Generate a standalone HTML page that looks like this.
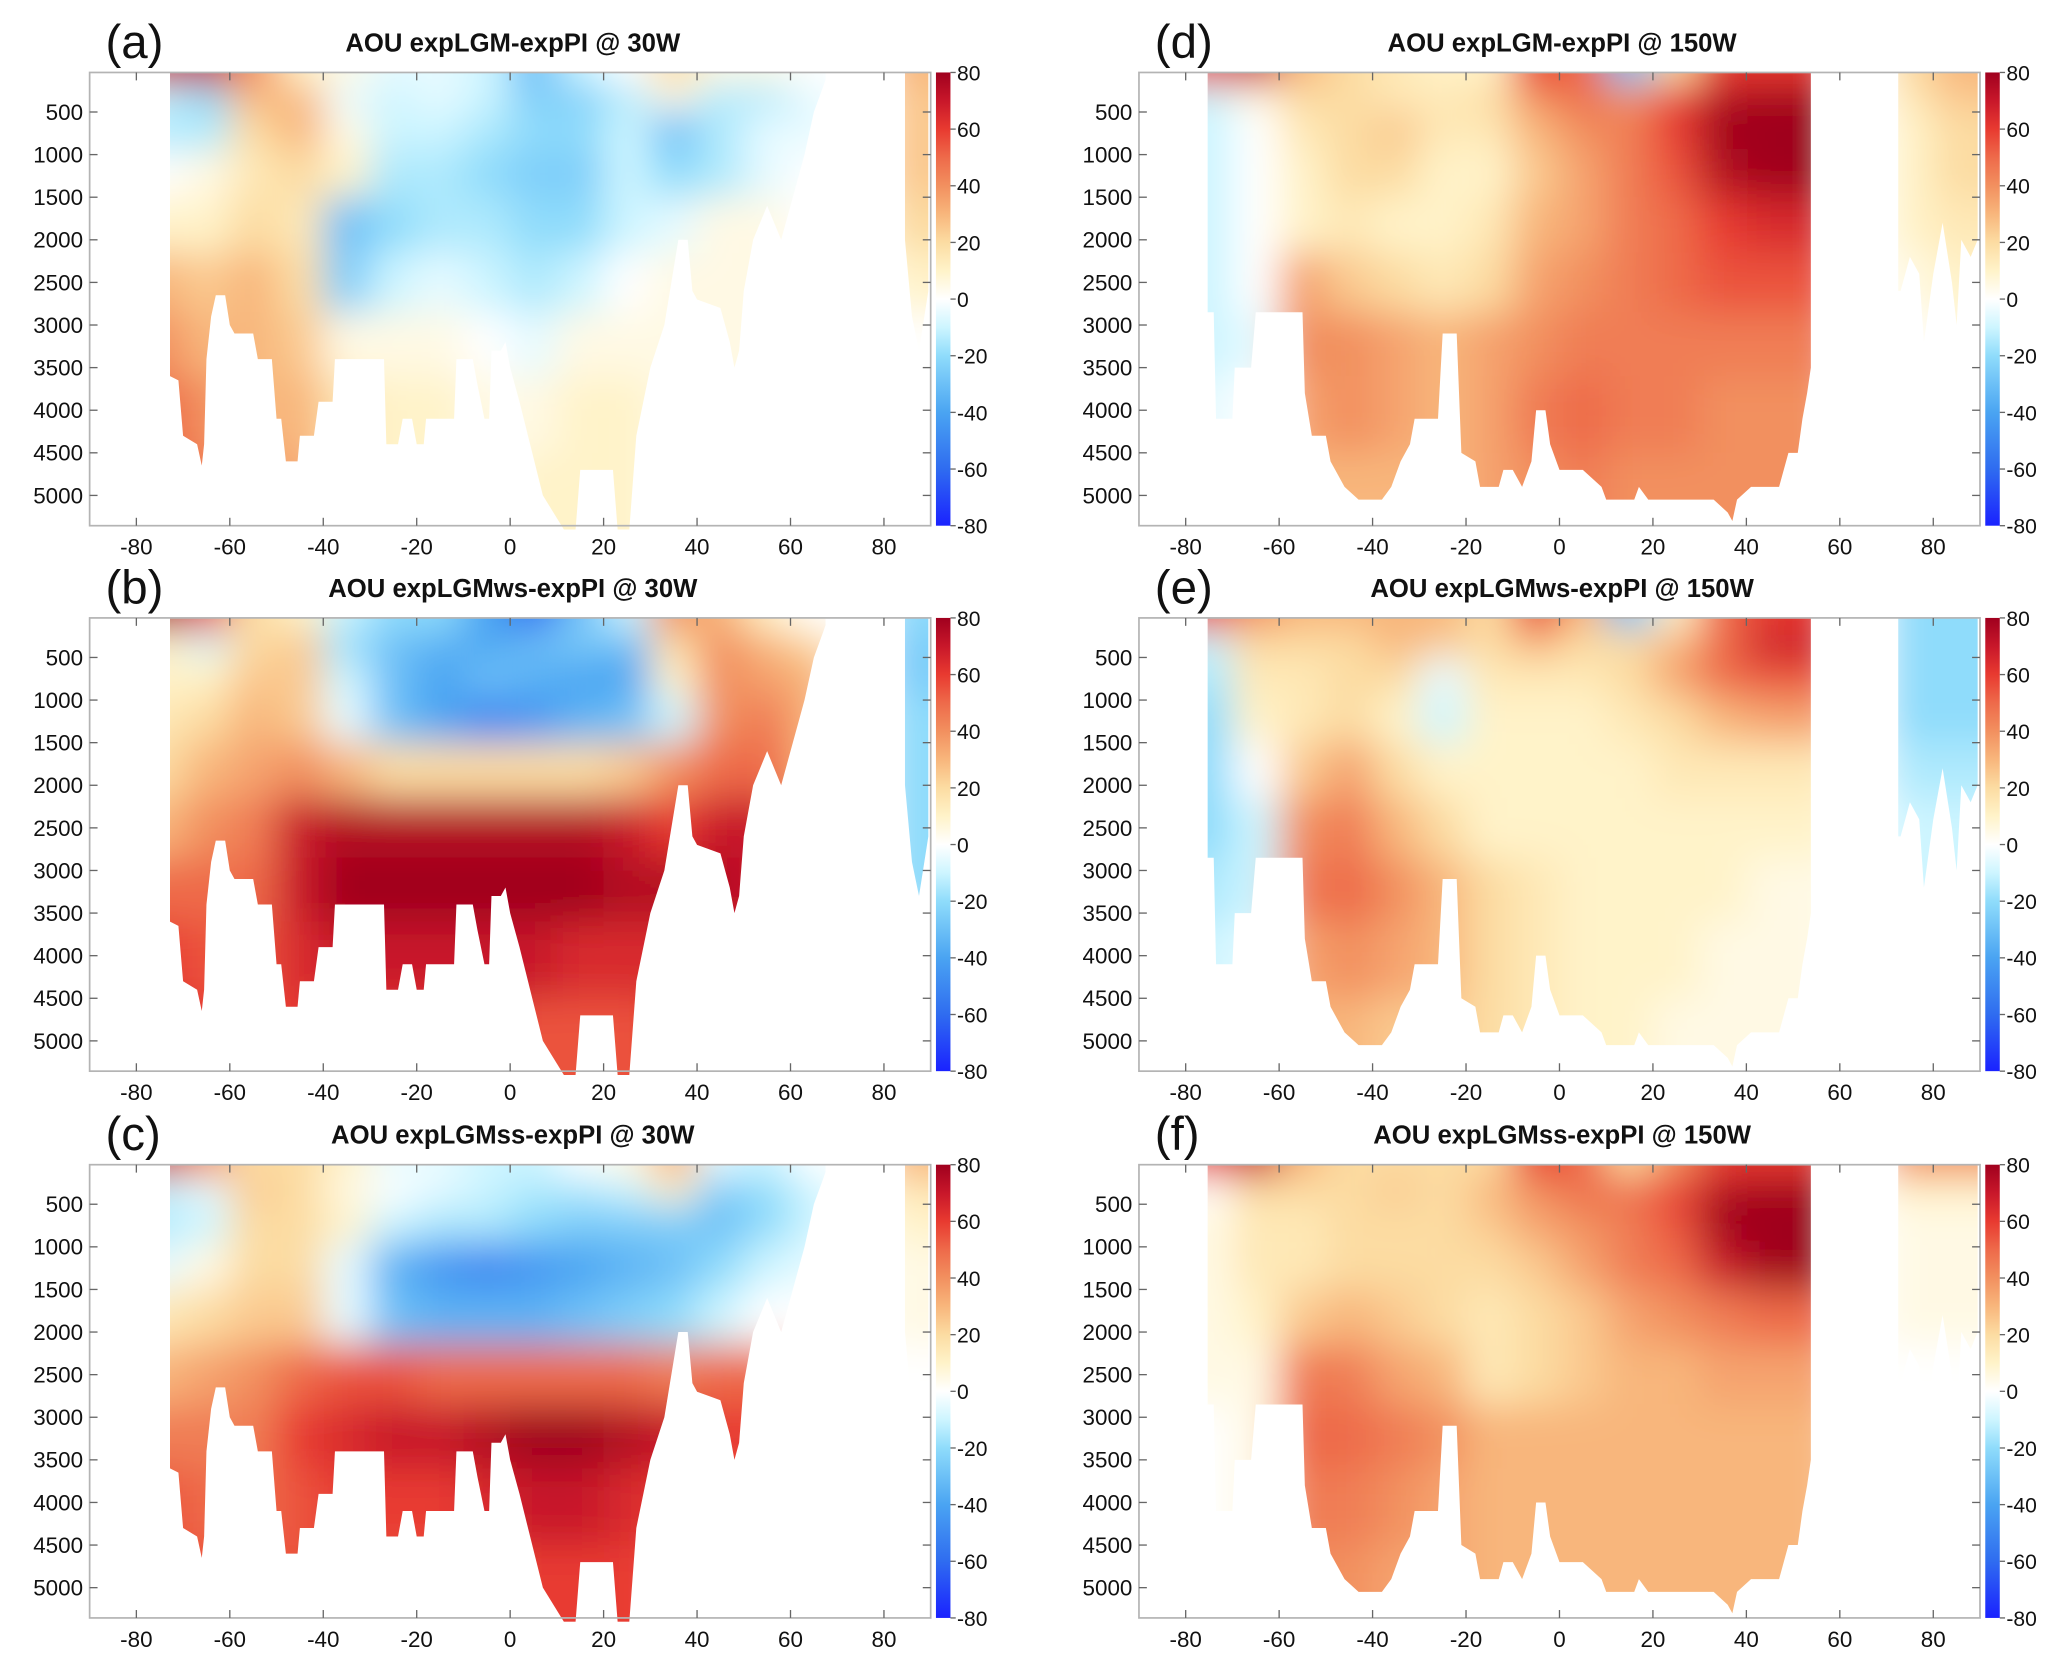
<!DOCTYPE html>
<html><head><meta charset="utf-8">
<style>
html,body{margin:0;padding:0;background:#fff;}
svg{display:block;font-family:"Liberation Sans",sans-serif;}
</style></head>
<body>
<svg id="fig" width="2067" height="1668" viewBox="0 0 1568 1266" preserveAspectRatio="none" xmlns="http://www.w3.org/2000/svg">
<defs>
<filter id="blur" x="-20%" y="-20%" width="140%" height="140%"><feGaussianBlur stdDeviation="15"/></filter>
<linearGradient id="cbgrad" x1="0" y1="1" x2="0" y2="0"></linearGradient>
</defs>
</svg>
<script>
const lats=[-75,-65,-55,-45,-35,-25,-15,-5,5,15,25,35,45,55,65,75,85];
const depths=[50,300,700,1200,1800,2500,3200,4000,5000];
const xTicks=[-80,-60,-40,-20,0,20,40,60,80];
const yTicks=[500,1000,1500,2000,2500,3000,3500,4000,4500,5000];
const cbTicks=[80,60,40,20,0,-20,-40,-60,-80];
const titles=["AOU expLGM-expPI @ 30W","AOU expLGMws-expPI @ 30W","AOU expLGMss-expPI @ 30W","AOU expLGM-expPI @ 150W","AOU expLGMws-expPI @ 150W","AOU expLGMss-expPI @ 150W"];
const letters=["(a)","(b)","(c)","(d)","(e)","(f)"];
const fieldA=[
[70,70,40,10,5,-5,-5,-10,-30,-10,0,20,5,5,0,0,30],
[-10,-20,30,30,-5,-10,-5,-10,-25,-25,-15,5,-15,-15,-5,0,25],
[-15,-15,20,30,5,-10,-10,-15,-20,-20,-10,-30,-15,-5,-5,0,25],
[0,5,15,20,10,-15,-15,-20,-25,-25,-10,-20,-15,-5,0,0,25],
[10,10,20,15,-30,-20,-15,-15,-20,-20,-10,-5,5,5,0,0,20],
[30,25,30,20,-25,-10,-5,-10,-15,-10,0,5,5,5,0,0,10],
[40,30,30,25,5,5,5,0,-5,5,5,5,5,5,0,0,0],
[50,40,30,30,15,10,10,5,5,10,10,5,5,5,0,0,0],
[55,45,35,35,15,10,10,5,10,10,10,5,5,5,0,0,0]];
const fieldB=[
[80,60,20,10,-10,-20,-20,-40,-60,-30,-10,40,30,10,0,0,-20],
[10,-10,20,25,-20,-30,-35,-40,-30,-25,-30,20,40,30,20,0,-25],
[10,10,25,25,-10,-30,-40,-30,-35,-40,-40,10,40,35,30,0,-25],
[15,20,30,25,-5,-30,-40,-50,-45,-35,-30,-10,40,45,30,0,-20],
[20,30,35,40,30,20,20,20,20,20,25,40,50,50,30,0,-20],
[30,40,45,70,75,75,75,75,75,75,70,60,70,70,30,0,-20],
[50,50,50,70,80,80,80,80,80,80,75,75,75,70,0,0,-20],
[60,55,55,65,70,70,70,70,70,65,65,65,65,65,0,0,0],
[70,60,60,60,60,60,60,60,55,55,55,60,60,60,0,0,0]];
const fieldC=[
[70,40,20,20,10,-5,-5,-10,-10,0,5,30,-5,-10,0,0,30],
[-10,-5,25,20,5,0,-5,-10,-15,-15,-10,10,-25,-20,-10,0,15],
[-15,-10,20,20,10,-10,-15,-15,-20,-25,-25,-25,-30,-20,-10,0,10],
[-5,5,20,20,-5,-35,-45,-50,-45,-40,-35,-30,-20,-10,-5,0,5],
[15,20,25,25,-5,-30,-35,-35,-35,-30,-25,-20,-10,0,0,0,5],
[30,35,40,50,55,55,50,50,50,50,50,45,50,50,0,0,0],
[45,45,45,60,65,70,70,75,80,80,75,70,60,60,0,0,0],
[55,50,50,55,60,60,60,65,70,70,65,60,55,55,0,0,0],
[60,55,55,55,55,55,55,55,60,60,60,55,55,55,0,0,0]];
const fieldD=[
[60,70,30,20,15,10,10,60,50,-30,20,60,60,60,0,20,30],
[-10,5,20,20,15,15,20,40,50,40,60,75,80,80,0,15,25],
[-10,0,15,20,25,15,15,30,40,45,60,80,80,80,0,10,20],
[-10,0,10,20,20,10,10,25,35,45,55,75,80,80,0,10,20],
[-10,0,10,15,10,10,15,30,35,45,50,60,65,65,0,10,15],
[-10,0,35,25,20,15,20,35,40,45,50,55,55,55,0,5,10],
[-10,-5,40,40,35,30,35,40,45,45,45,45,45,45,0,0,5],
[-5,0,35,40,35,30,35,45,50,45,45,40,40,40,0,0,0],
[0,5,30,30,30,30,35,40,45,40,40,40,40,40,0,0,0]];
const fieldE=[
[60,40,30,30,30,30,20,60,30,-30,10,50,60,60,0,-20,-20],
[-10,20,20,20,30,25,20,30,20,20,30,50,70,70,0,-20,-20],
[-15,15,15,20,20,-5,15,15,15,20,35,50,55,55,0,-20,-20],
[-20,10,15,20,10,-10,10,10,10,15,20,30,35,35,0,-20,-20],
[-20,0,25,35,20,10,10,10,10,10,15,15,15,15,0,-15,-15],
[-20,-10,40,45,30,20,10,10,10,10,10,10,10,10,0,-10,-10],
[-15,-10,45,50,40,30,20,15,10,10,10,10,5,5,0,-10,-10],
[-10,-5,35,40,35,30,20,15,10,10,10,5,5,5,0,0,0],
[-5,0,30,30,25,25,20,15,10,10,5,5,5,5,0,0,0]];
const fieldF=[
[60,70,30,20,20,20,20,60,50,20,40,60,60,60,0,40,40],
[0,20,20,20,25,20,30,40,50,50,60,75,80,80,0,10,10],
[5,15,15,20,20,20,25,35,40,45,55,80,80,80,0,5,5],
[5,15,15,20,20,20,20,25,35,45,50,70,80,80,0,5,5],
[5,10,25,30,25,20,15,20,25,35,40,45,50,50,0,5,5],
[5,5,45,45,35,30,15,20,25,30,30,35,35,35,0,0,0],
[0,5,50,50,45,40,30,30,30,30,30,30,30,30,0,0,0],
[0,5,45,45,40,35,30,30,30,30,30,30,30,30,0,0,0],
[0,5,40,40,35,35,30,30,30,30,30,30,30,30,0,0,0]];
const fields=[fieldA,fieldB,fieldC,fieldD,fieldE,fieldF];
const bathyLat30=[-72.8,-72.8,-71,-70,-67,-66,-65.5,-65,-64,-63,-61,-60,-59,-55,-54,-51,-50,-49,-48,-45.5,-45,-42,-41,-38,-37.5,-35,-27,-26.5,-24,-23,-21,-20,-18.5,-18,-12,-11.5,-8,-7,-5.5,-4.5,-4,-2,-1,0,2,7,11.5,14,15,22,23,25.5,27,30,33,36,38,39,40,45,47,48,49,50,52,55,58,60,62,63,65,67,67.5,67.5];
const bathyDep30=[36,3600,3650,4300,4400,4650,4400,3400,2900,2650,2650,3000,3100,3100,3400,3400,4100,4100,4600,4600,4300,4300,3900,3900,3400,3400,3400,4400,4400,4100,4100,4400,4400,4100,4100,3400,3400,3700,4100,4100,3300,3300,3200,3500,3900,5000,5400,5400,4700,4700,5400,5400,4300,3500,3000,2000,2000,2600,2700,2800,3200,3500,3300,2600,2000,1600,2000,1600,1200,1000,500,200,120,36];
const arcLat30=[84.5,89.5,89.5,87.5,86,84.5];
const arcDep30=[36,36,2600,3300,2900,2000];
const bathyLat150=[-75.3,-75.3,-74,-73.5,-70,-69.5,-66,-65,-55,-54.5,-53,-50,-49,-46,-43,-38,-36,-34,-32,-31,-26,-25,-22,-21,-18,-17,-13,-12,-10,-8,-6,-5,-3,-2,0,5,9,10,16,17,19,33,36,37,38,41,47,49,51,52,53,53.8,53.8];
const bathyDep150=[36,2850,2850,4100,4100,3500,3500,2850,2850,3800,4300,4300,4600,4900,5050,5050,4900,4600,4400,4100,4100,3100,3100,4500,4600,4900,4900,4700,4700,4900,4600,4000,4000,4400,4700,4700,4900,5050,5050,4900,5050,5050,5200,5300,5050,4900,4900,4500,4500,4100,3800,3500,36];
const arcLat150=[72.5,89.5,89.5,88,86,85,84,82,80,78,77,75,73,72.5];
const arcDep150=[36,36,2000,2200,2000,3000,2500,1800,2400,3200,2400,2200,2600,2600];
const cmVals=[-80,-60,-40,-20,-10,0,10,20,30,40,50,60,70,80];
const cmCols=["#1a22ff","#2f6cf0","#4aa4f2","#8fdcfb","#cdf5ff","#ffffff","#fff3c9","#fcdca2","#f8b67c","#f2905f","#ee6a4a","#e83a30","#c8172a","#a0001e"];

const NS="http://www.w3.org/2000/svg";
const svg=document.getElementById('fig');
function el(tag,attrs,parent){const e=document.createElementNS(NS,tag);for(const k in attrs)e.setAttribute(k,attrs[k]);(parent||svg).appendChild(e);return e;}
function hex(c){return [parseInt(c.slice(1,3),16),parseInt(c.slice(3,5),16),parseInt(c.slice(5,7),16)];}
function color(v){v=Math.max(-80,Math.min(80,v));for(let i=0;i<cmVals.length-1;i++){if(v<=cmVals[i+1]){const t=(v-cmVals[i])/(cmVals[i+1]-cmVals[i]);const a=hex(cmCols[i]),b=hex(cmCols[i+1]);return `rgb(${a.map((x,k)=>Math.round(x+(b[k]-x)*t)).join(',')})`;}}return cmCols[cmCols.length-1];}
const grad=document.getElementById('cbgrad');
cmVals.forEach((v,i)=>{el('stop',{offset:((v+80)/160).toFixed(4),'stop-color':cmCols[i]},grad);});

const panels=[{x0:68,top:55},{x0:68,top:469},{x0:68,top:884},{x0:864,top:55},{x0:864,top:469},{x0:864,top:884}];
const W=638,H=344,pxPerDeg=W/180,pxPerM=0.06467,d0=36;
panels.forEach((p,pi)=>{
  const X=lat=>p.x0+(lat+90)*pxPerDeg;
  const Y=d=>p.top+(d-d0)*pxPerM;
  const g=el('g',{});
  
  
  const is30=pi<3;
  const bl=is30?bathyLat30:bathyLat150, bd=is30?bathyDep30:bathyDep150;
  const al=is30?arcLat30:arcLat150, ad=is30?arcDep30:arcDep150;
  const cp=el('clipPath',{id:'clip'+pi},svg.querySelector('defs'));
  el('polygon',{points:bl.map((l,i)=>X(l)+','+Y(bd[i])).join(' ')},cp);
  el('polygon',{points:al.map((l,i)=>X(l)+','+Y(ad[i])).join(' ')},cp);
  const cg=el('g',{'clip-path':`url(#clip${pi})`},g);
  const fg=el('g',{filter:'url(#blur)'},cg);
  const f=fields[pi];
  depths.forEach((d,j)=>{
    const dtop=j===0?-800:(depths[j-1]+d)/2, dbot=j===depths.length-1?6500:(d+depths[j+1])/2;
    lats.forEach((l,i)=>{
      const ll=i===0?-110:l-5, lr=i===lats.length-1?110:l+5;
      const r=el('rect',{x:X(ll),y:Y(dtop),width:X(lr)-X(ll)+0.5,height:Y(dbot)-Y(dtop)+0.5,fill:color(f[j][i])},fg);
      
      
    });
  });
  const fr=el('rect',{x:p.x0,y:p.top,width:W,height:H,fill:'none',stroke:'#b4b4b4','stroke-width':1.3},g);
  
  
  xTicks.forEach(t=>{
    const x=X(t);
    el('line',{x1:x,x2:x,y1:p.top+H,y2:p.top+H-6,stroke:'#666','stroke-width':1},g);
    el('line',{x1:x,x2:x,y1:p.top,y2:p.top+6,stroke:'#666','stroke-width':1},g);
    const tx=el('text',{x:x,y:p.top+H+22,'text-anchor':'middle','font-size':17,fill:'#111'},g);
    tx.textContent=t;
    
    
  });
  yTicks.forEach(t=>{
    const y=Y(t);
    el('line',{x1:p.x0,x2:p.x0+6,y1:y,y2:y,stroke:'#666','stroke-width':1},g);
    el('line',{x1:p.x0+W,x2:p.x0+W-6,y1:y,y2:y,stroke:'#666','stroke-width':1},g);
    const tx=el('text',{x:p.x0-5,y:y+6,'text-anchor':'end','font-size':17,fill:'#111'},g);
    tx.textContent=t;
    
    
  });
  const cx=p.x0+W+4;
  const cb=el('rect',{x:cx,y:p.top,width:11,height:H,fill:'url(#cbgrad)'},g);
  
  
  cbTicks.forEach((t,k)=>{
    const y=p.top+H*(80-t)/160;
    el('line',{x1:cx+11,x2:cx+15,y1:y,y2:y,stroke:'#666','stroke-width':1},g);
    const tx=el('text',{x:cx+16,y:y+6,'font-size':16,fill:'#111'},g);
    tx.textContent=t;
    
    
  });
  const lt=el('text',{x:p.x0+12,y:p.top-11,'font-size':36,fill:'#111'},g);
  lt.textContent=letters[pi];
  
  
  const tt=el('text',{x:p.x0+W/2+2,y:p.top-16,'text-anchor':'middle','font-size':19.5,'font-weight':'bold',fill:'#111'},g);
  tt.textContent=titles[pi];
  
  
});
</script>
</body></html>
